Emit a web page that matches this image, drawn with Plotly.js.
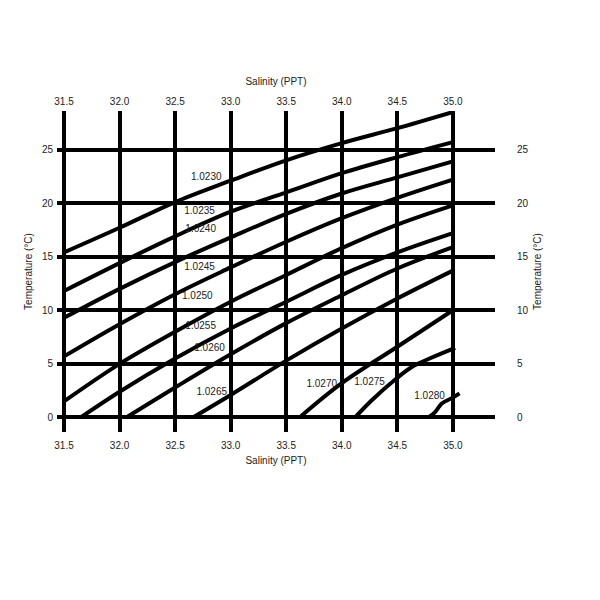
<!DOCTYPE html>
<html>
<head>
<meta charset="utf-8">
<script src="https://cdn.plot.ly/plotly-3.0.1.min.js"></script>
<style>html,body{margin:0;padding:0;background:#fff;}#chart{width:600px;height:600px;}</style>
</head>
<body>
<div id="chart"></div>
<script>
// Tick values
const salinityTicks = [31.5, 32.0, 32.5, 33.0, 33.5, 34.0, 34.5, 35.0];
const temperatureTicks = [0, 5, 10, 15, 20, 25];

// Density isolines (salinity PPT, temperature °C)
const densityNames = ['1.0230','1.0235','1.0240','1.0245','1.0250','1.0255','1.0260','1.0265','1.0270','1.0275','1.0280'];

const sal_0230 = [31.5, 32.0, 32.5, 33.0, 33.5, 34.0, 34.5, 35.0];
const temp_0230 = [15.4, 17.7, 20.1, 22.1, 24.0, 25.6, 27.0, 28.5];

const sal_0235 = [31.5, 32.0, 32.5, 33.0, 33.5, 34.0, 34.5, 35.0];
const temp_0235 = [11.8, 14.4, 16.9, 19.2, 21.0, 22.8, 24.3, 25.7];

const sal_0240 = [31.5, 32.0, 32.5, 33.0, 33.5, 34.0, 34.5, 35.0];
const temp_0240 = [9.3, 12.0, 14.5, 16.8, 19.0, 20.9, 22.4, 23.9];

const sal_0245 = [31.5, 32.0, 32.5, 33.0, 33.5, 34.0, 34.5, 35.0];
const temp_0245 = [5.7, 8.7, 11.5, 14.0, 16.4, 18.6, 20.5, 22.2];

const sal_0250 = [31.5, 32.0, 32.5, 33.0, 33.5, 34.0, 34.5, 35.0];
const temp_0250 = [1.5, 5.0, 8.0, 10.8, 13.3, 15.8, 18.0, 19.8];

const sal_0255 = [31.65, 32.0, 32.5, 33.0, 33.5, 34.0, 34.5, 35.0];
const temp_0255 = [0.0, 2.4, 5.5, 8.3, 10.8, 13.3, 15.4, 17.2];

const sal_0260 = [32.06, 32.5, 33.0, 33.5, 34.0, 34.5, 35.0];
const temp_0260 = [0.0, 2.8, 5.9, 8.8, 11.4, 13.9, 15.9];

const sal_0265 = [32.66, 33.0, 33.5, 34.0, 34.5, 35.0];
const temp_0265 = [0.0, 2.1, 5.3, 8.3, 11.1, 13.7];

const sal_0270 = [33.62, 34.0, 34.5, 35.0];
const temp_0270 = [0.0, 3.2, 6.6, 10.0];

const sal_0275 = [34.12, 34.27, 34.5, 34.63, 34.79, 35.02];
const temp_0275 = [0.0, 1.6, 3.7, 4.7, 5.5, 6.5];

const sal_0280 = [34.78, 34.84, 34.90, 34.99, 35.06];
const temp_0280 = [0.0, 0.5, 1.3, 1.8, 2.25];

// Where each density label sits (salinity, temperature)
const labelSal  = [32.78, 32.72, 32.73, 32.72, 32.70, 32.73, 32.81, 32.83, 33.82, 34.25, 34.79];
const labelTemp = [22.4, 19.2, 17.5, 14.0, 11.3, 8.5, 6.4, 2.3, 3.1, 3.3, 2.0];

const curveSal = [sal_0230, sal_0235, sal_0240, sal_0245, sal_0250, sal_0255, sal_0260, sal_0265, sal_0270, sal_0275, sal_0280];
const curveTemp = [temp_0230, temp_0235, temp_0240, temp_0245, temp_0250, temp_0255, temp_0260, temp_0265, temp_0270, temp_0275, temp_0280];

const FONT = 'Liberation Sans, Arial, sans-serif';
const TXT = '#222';

const traces = curveSal.map((s, i) => ({
  type: 'scatter', mode: 'lines', x: s, y: curveTemp[i],
  name: densityNames[i],
  line: {color: '#000', width: 4, shape: 'spline', smoothing: 1},
  hoverinfo: 'skip'
}));

traces.push({
  type: 'scatter', mode: 'text', x: labelSal, y: labelTemp, text: densityNames,
  textfont: {family: FONT, size: 10, color: TXT},
  xaxis: 'x2', yaxis: 'y2', hoverinfo: 'skip', cliponaxis: false
});

const xBase = {
  range: [31.437, 35.379], tickmode: 'array', tickvals: salinityTicks, tickformat: '.1f',
  zeroline: false, showline: false, ticks: '',
  tickfont: {family: FONT, size: 10, color: TXT}
};
const yBase = {
  range: [-1.36, 28.6], tickmode: 'array', tickvals: temperatureTicks,
  zeroline: false, showline: false, ticks: '',
  tickfont: {family: FONT, size: 10, color: TXT}
};

const layout = {
  width: 600, height: 600,
  margin: {l: 57, r: 105, t: 111, b: 168, pad: 0},
  paper_bgcolor: '#fff', plot_bgcolor: '#fff',
  showlegend: false,
  font: {family: FONT, color: TXT},
  xaxis: Object.assign({}, xBase, {
    showgrid: true, gridcolor: '#000', gridwidth: 4,
    ticklabelstandoff: 6,
    title: {text: 'Salinity (PPT)', font: {family: FONT, size: 10, color: TXT}, standoff: 6}
  }),
  xaxis2: Object.assign({}, xBase, {
    overlaying: 'x', side: 'top', matches: 'x', showgrid: false,
    ticklabelstandoff: 3,
    title: {text: 'Salinity (PPT)', font: {family: FONT, size: 10, color: TXT}, standoff: 8}
  }),
  yaxis: Object.assign({}, yBase, {
    showgrid: true, gridcolor: '#000', gridwidth: 4,
    ticklabelstandoff: 3,
    title: {text: 'Temperature (°C)', font: {family: FONT, size: 10, color: TXT}, standoff: 7}
  }),
  yaxis2: Object.assign({}, yBase, {
    overlaying: 'y', side: 'right', matches: 'y', showgrid: false,
    ticklabelstandoff: 21,
    title: {text: 'Temperature (°C)', font: {family: FONT, size: 10, color: TXT}, standoff: 6}
  })
};

Plotly.newPlot('chart', traces, layout, {staticPlot: true, displayModeBar: false});
</script>
</body>
</html>
